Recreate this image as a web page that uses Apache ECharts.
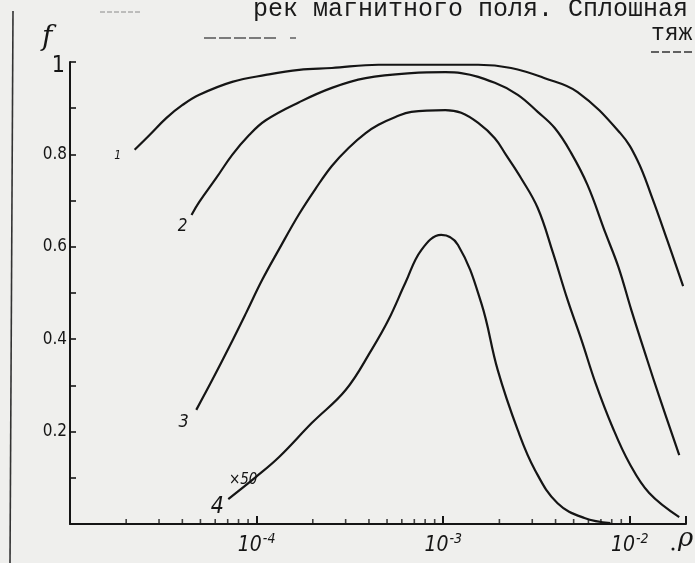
<!DOCTYPE html>
<html>
<head>
<meta charset="utf-8">
<script src="https://cdn.jsdelivr.net/npm/echarts@6/dist/echarts.min.js"></script>
<style>
html,body{margin:0;padding:0;background:#efefed;}
#c{width:695px;height:563px;}
</style>
</head>
<body>
<div id="c"></div>
<script>
// Curve 1
const rho1 = [2.22e-5, 2.67e-5, 3.29e-5, 4.01e-5, 4.93e-5, 7.40e-5, 1.12e-4, 1.69e-4, 2.53e-4, 4.50e-4, 1.54e-3, 2.31e-3, 3.50e-3, 5.25e-3, 8.89e-3, 1.096e-2, 1.318e-2, 1.585e-2, 1.93e-2];
const f1   = [0.810, 0.842, 0.879, 0.907, 0.929, 0.957, 0.972, 0.983, 0.987, 0.994, 0.994, 0.987, 0.965, 0.935, 0.846, 0.788, 0.706, 0.615, 0.515];
// Curve 2
const rho2 = [4.48e-5, 4.93e-5, 6.08e-5, 7.40e-5, 9.12e-5, 1.12e-4, 1.69e-4, 2.53e-4, 3.84e-4, 6.75e-4, 1.026e-3, 1.248e-3, 1.89e-3, 2.51e-3, 3.21e-3, 3.96e-3, 4.82e-3, 5.93e-3, 7.40e-3, 8.69e-3, 1.019e-2, 1.24e-2, 1.44e-2, 1.84e-2];
const f2   = [0.669, 0.697, 0.749, 0.799, 0.842, 0.874, 0.913, 0.944, 0.965, 0.976, 0.978, 0.976, 0.955, 0.929, 0.892, 0.857, 0.805, 0.734, 0.630, 0.556, 0.463, 0.355, 0.275, 0.149];
// Curve 3
const rho3 = [4.75e-5, 5.79e-5, 7.13e-5, 8.79e-5, 1.07e-4, 1.32e-4, 1.69e-4, 2.08e-4, 2.53e-4, 3.11e-4, 3.84e-4, 4.50e-4, 5.55e-4, 6.75e-4, 1.026e-3, 1.248e-3, 1.54e-3, 1.89e-3, 2.17e-3, 2.61e-3, 3.21e-3, 3.86e-3, 4.64e-3, 5.51e-3, 6.55e-3, 8.07e-3, 9.93e-3, 1.27e-2, 1.84e-2];
const f3   = [0.247, 0.312, 0.383, 0.457, 0.528, 0.595, 0.671, 0.727, 0.775, 0.814, 0.846, 0.864, 0.881, 0.892, 0.896, 0.890, 0.868, 0.835, 0.799, 0.749, 0.684, 0.589, 0.485, 0.398, 0.305, 0.210, 0.132, 0.067, 0.015];
// Curve 4 (x50)
const rho4 = [7.05e-5, 9.93e-5, 1.32e-4, 1.98e-4, 3.00e-4, 4.13e-4, 5.09e-4, 6.27e-4, 7.63e-4, 9.75e-4, 1.20e-3, 1.60e-3, 1.96e-3, 2.51e-3, 3.10e-3, 4.10e-3, 5.71e-3, 7.87e-3];
const f4   = [0.054, 0.102, 0.145, 0.219, 0.290, 0.377, 0.442, 0.522, 0.593, 0.626, 0.604, 0.478, 0.333, 0.203, 0.117, 0.045, 0.013, 0.002];

// Curve labels: [text, rho, f]
const curveLabels = [['1', 1.80e-5, 0.797], ['2', 4.01e-5, 0.643], ['3', 4.06e-5, 0.221], ['4', 6.15e-5, 0.037], ['×50', 8.47e-5, 0.095]];
const curveLabelSizes = [12, 17, 18, 23, 15];

// axis
const xMin = 1e-5, xMax = 0.02;
const xMajorLabels = {'-4': '-4', '-3': '-3', '-2': '-2'};
const xMinorTicks = [2e-5,3e-5,4e-5,5e-5,6e-5,7e-5,8e-5,9e-5, 2e-4,3e-4,4e-4,5e-4,6e-4,7e-4,8e-4,9e-4, 2e-3,3e-3,4e-3,5e-3,6e-3,7e-3,8e-3,9e-3];
const yLabels = {'0.2':'0.2','0.4':'0.4','0.6':'0.6','0.8':'0.8','1':'1'};

const header1 = 'рек магнитного поля. Сплошная';
const header2 = 'тяж';

const zip = (a, b) => a.map((v, i) => [v, b[i]]);
const ink = '#151515';
const hand = "'DejaVu Sans Condensed', 'DejaVu Sans', sans-serif";

const lineSeries = [[rho1,f1],[rho2,f2],[rho3,f3],[rho4,f4]].map(([r,f]) => ({
  type: 'line', data: zip(r, f), smooth: 0.4, showSymbol: false, symbol: 'none',
  lineStyle: {color: ink, width: 2.2}, clip: false, z: 3
}));

const chart = echarts.init(document.getElementById('c'), null, {renderer: 'canvas'});
chart.setOption({
  backgroundColor: '#efefed',
  animation: false,
  grid: {left: 70, right: 9, top: 62, bottom: 39, containLabel: false, outerBoundsMode: 'none'},
  xAxis: {
    type: 'log', logBase: 10, min: xMin, max: xMax,
    axisLine: {lineStyle: {color: ink, width: 2}},
    axisTick: {inside: true, length: 8, lineStyle: {color: ink, width: 2}},
    splitLine: {show: false},
    axisLabel: {
      margin: 8,
      formatter: function (v) {
        const e = Math.round(Math.log10(v));
        if (Math.abs(Math.log10(v) - e) > 1e-6) return '';
        const k = String(e);
        return xMajorLabels[k] ? '{b|10}{s|' + xMajorLabels[k] + '}' : '';
      },
      rich: {
        b: {fontSize: 21, fontStyle: 'italic', color: ink, fontFamily: hand},
        s: {fontSize: 14, fontStyle: 'italic', color: ink, fontFamily: hand, padding: [0, 0, 13, 1]}
      }
    }
  },
  yAxis: {
    type: 'value', min: 0, max: 1, interval: 0.1,
    axisLine: {show: true, lineStyle: {color: ink, width: 2}},
    axisTick: {show: true, inside: true, length: 6, lineStyle: {color: ink, width: 1.6}},
    splitLine: {show: false},
    axisLabel: {
      margin: 3,
      formatter: function (v) {
        const k = String(Math.round(v * 10) / 10);
        if (!yLabels[k]) return '';
        return k === '1' ? '{big|' + yLabels[k] + '}' : '{n|' + yLabels[k] + '}';
      },
      rich: {
        n: {fontSize: 17, color: ink, fontFamily: hand},
        big: {fontSize: 23, color: ink, fontFamily: hand, padding: [9, 2, 0, 0]}
      }
    }
  },
  series: lineSeries.concat([
    {
      type: 'scatter', data: xMinorTicks.map(v => [v, 0]), symbol: 'rect',
      symbolSize: [1.6, 5], symbolOffset: [0, -2.5], itemStyle: {color: ink}, clip: false, z: 4, silent: true
    },
    {
      type: 'scatter', data: [], silent: true,
      markPoint: {
        symbol: 'circle', symbolSize: 1, itemStyle: {color: 'rgba(0,0,0,0)'},
        data: curveLabels.map((c, i) => ({
          coord: [c[1], c[2]], name: c[0],
          label: {show: true, position: 'inside', formatter: c[0], color: ink, fontSize: curveLabelSizes[i],
                  fontStyle: 'italic', fontFamily: hand}
        }))
      }
    }
  ]),
  graphic: [
    {type: 'line', shape: {x1: 13, y1: 11, x2: 10, y2: 563}, style: {stroke: '#333', lineWidth: 1.6}},
    {type: 'text', left: 253, top: -3, style: {text: header1, font: "25px 'Liberation Mono', 'DejaVu Sans Mono', monospace", fill: '#1a1a1a'}},
    {type: 'text', left: 651, top: 22, style: {text: header2, font: "23px 'Liberation Mono', 'DejaVu Sans Mono', monospace", fill: '#1a1a1a'}},
    {type: 'line', shape: {x1: 100, y1: 12, x2: 140, y2: 12}, style: {stroke: '#8a8a8a', lineWidth: 1, lineDash: [5, 2]}},
    {type: 'line', shape: {x1: 204, y1: 38, x2: 278, y2: 38}, style: {stroke: '#555', lineWidth: 1.4, lineDash: [12, 3]}},
    {type: 'line', shape: {x1: 290, y1: 38, x2: 296, y2: 38}, style: {stroke: '#555', lineWidth: 1.4}},
    {type: 'line', shape: {x1: 651, y1: 52, x2: 695, y2: 52}, style: {stroke: '#333', lineWidth: 1.6, lineDash: [8, 3]}},
    {type: 'text', left: 42, top: 24, style: {text: 'f', font: "italic 28px 'DejaVu Serif', serif", fill: ink}},
    {type: 'text', left: 678, top: 526, style: {text: 'ρ', font: "italic 26px 'DejaVu Serif', serif", fill: ink}},
    {type: 'circle', shape: {cx: 673, cy: 549, r: 1.5}, style: {fill: ink}}
  ]
});
</script>
</body>
</html>
